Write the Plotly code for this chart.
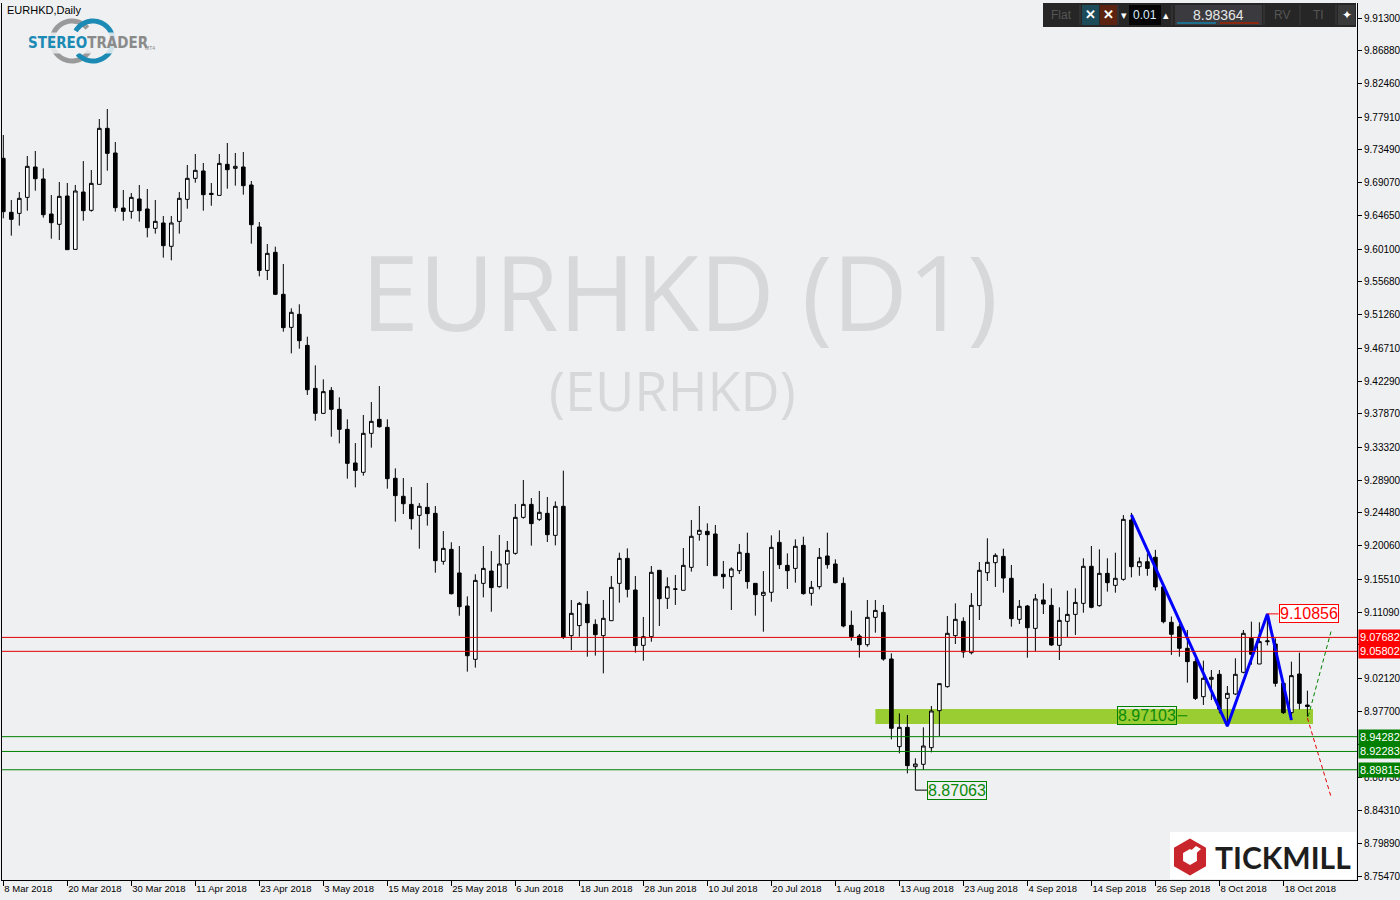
import math
import plotly.graph_objects as go

# ---------------- data (EURHKD daily) ----------------
opens = [9.7236, 9.6507, 9.6493, 9.6709, 9.7119, 9.6957, 9.6484, 9.6345, 9.6727, 9.6007,
         9.6781, 9.6534, 9.6885, 9.7641, 9.7308, 9.6565, 9.6520, 9.6687, 9.6552, 9.6291,
         9.6363, 9.6048, 9.6385, 9.6682, 9.6966, 9.7065, 9.6763, 9.6736, 9.7155, 9.7101,
         9.7119, 9.6876, 9.6309, 9.5723, 9.5967, 9.5400, 9.4954, 9.5130, 9.4711, 9.4130,
         9.3793, 9.4103, 9.3847, 9.3577, 9.3123, 9.2997, 9.3523, 9.3712, 9.3604, 9.2916,
         9.2673, 9.2564, 9.2416, 9.2524, 9.2443, 9.1795, 9.1957, 9.1638, 9.1192, 9.0472,
         9.1498, 9.1664, 9.1453, 9.1759, 9.1903, 9.2389, 9.2564, 9.2362, 9.2443, 9.2146,
         9.2538, 9.0792, 9.0927, 9.1215, 9.0944, 9.0792, 9.0994, 9.1498, 9.1835, 9.1408,
         9.0661, 9.0778, 9.1674, 9.1296, 9.1418, 9.1404, 9.1714, 9.2160, 9.2200, 9.2164,
         9.1620, 9.1588, 9.1669, 9.1903, 9.1498, 9.1336, 9.1377, 9.2051, 9.1741, 9.1700,
         9.2011, 9.1363, 9.1453, 9.1867, 9.1759, 9.1498, 9.0931, 9.0787, 9.0670, 9.1039,
         9.1106, 9.0477, 8.9293, 8.9554, 8.9023, 8.9055, 8.9280, 8.9779, 9.0103, 9.0792,
         9.0985, 9.0562, 9.1197, 9.1642, 9.1777, 9.1862, 9.1566, 9.1012, 9.1192, 9.0890,
         9.1273, 9.1201, 9.0661, 9.0985, 9.1079, 9.1228, 9.1728, 9.1197, 9.1633, 9.1471,
         9.1552, 9.2353, 9.1723, 9.1790, 9.1850, 9.1450, 9.0972, 9.0913, 9.0621, 9.0441,
         8.9968, 9.0202, 9.0270, 8.9946, 9.0004, 9.0297, 9.0756, 9.0409, 9.0710, 9.0679,
         9.0148, 8.9752, 9.0274, 8.9855]
highs = [9.7551, 9.6673, 9.6781, 9.7267, 9.7335, 9.7101, 9.6741, 9.6916, 9.6903, 9.6876,
         9.7199, 9.7078, 9.7767, 9.7902, 9.7456, 9.6808, 9.6768, 9.6876, 9.6822, 9.6673,
         9.6457, 9.6457, 9.6781, 9.7146, 9.7294, 9.7173, 9.6903, 9.7294, 9.7443, 9.7308,
         9.7321, 9.6930, 9.6376, 9.6079, 9.6043, 9.5809, 9.5211, 9.5265, 9.4828, 9.4441,
         9.4252, 9.4148, 9.4009, 9.3712, 9.3392, 9.3771, 9.3946, 9.4162, 9.3712, 9.3050,
         9.2920, 9.2798, 9.2582, 9.2853, 9.2542, 9.2204, 9.2052, 9.2002, 9.1322, 9.1620,
         9.2002, 9.1934, 9.2151, 9.2070, 9.2569, 9.2893, 9.2650, 9.2745, 9.2664, 9.2605,
         9.3019, 9.1273, 9.1246, 9.1394, 9.1012, 9.1273, 9.1597, 9.1912, 9.1970, 9.1597,
         9.1044, 9.1732, 9.1674, 9.1579, 9.1611, 9.1975, 9.2353, 9.2542, 9.2308, 9.2286,
         9.1800, 9.1714, 9.2029, 9.2182, 9.1498, 9.1664, 9.2146, 9.2214, 9.1903, 9.2092,
         9.2128, 9.1530, 9.1975, 9.2182, 9.1822, 9.1579, 9.1129, 9.0814, 9.1273, 9.1273,
         9.1206, 9.0553, 8.9743, 8.9721, 8.9136, 8.9554, 8.9842, 9.0144, 9.1057, 9.1228,
         9.1039, 9.1367, 9.1786, 9.2106, 9.1903, 9.1966, 9.1746, 9.1273, 9.1206, 9.1354,
         9.1498, 9.1431, 9.1174, 9.1399, 9.1431, 9.1836, 9.2002, 9.1957, 9.1836, 9.1912,
         9.2420, 9.2450, 9.1850, 9.1900, 9.1950, 9.1500, 9.1050, 9.0950, 9.0868, 9.0480,
         9.0454, 9.0328, 9.0328, 9.0112, 9.0486, 9.0868, 9.0981, 9.0972, 9.10856, 9.0756,
         9.0148, 9.0441, 9.0562, 9.0049]
lows = [9.6426, 9.6192, 9.6327, 9.6529, 9.6799, 9.6435, 9.6151, 9.6133, 9.6003, 9.6003,
        9.6394, 9.6516, 9.6885, 9.7069, 9.6516, 9.6394, 9.6421, 9.6381, 9.6169, 9.6219,
        9.5895, 9.5859, 9.6219, 9.6556, 9.6907, 9.6529, 9.6596, 9.6736, 9.6826, 9.6867,
        9.6745, 9.6084, 9.5643, 9.5593, 9.5390, 9.4895, 9.4603, 9.4666, 9.4041, 9.3694,
        9.3784, 9.3478, 9.3388, 9.2911, 9.2794, 9.2952, 9.3330, 9.3600, 9.2776, 9.2331,
        9.2434, 9.2223, 9.1966, 9.2277, 9.1642, 9.1750, 9.1349, 9.1061, 9.0306, 9.0360,
        9.1309, 9.1115, 9.1440, 9.1426, 9.1885, 9.2371, 9.2007, 9.2340, 9.2056, 9.2011,
        9.0746, 9.0598, 9.0778, 9.0508, 9.0522, 9.0283, 9.0994, 9.1237, 9.1309, 9.0562,
        9.0454, 9.0710, 9.0922, 9.1152, 9.1206, 9.1404, 9.1656, 9.2074, 9.1732, 9.1601,
        9.1426, 9.1138, 9.1624, 9.1426, 9.1062, 9.0845, 9.1250, 9.1692, 9.1422, 9.1507,
        9.1345, 9.1197, 9.1417, 9.1696, 9.1498, 9.0904, 9.0724, 9.0495, 9.0643, 9.0832,
        9.0454, 8.9392, 8.9203, 8.8933, 8.87063, 8.8978, 8.9217, 8.9437, 9.0090, 9.0679,
        9.0494, 9.0539, 9.1003, 9.1530, 9.1449, 9.1372, 9.0913, 9.0949, 9.0494, 9.0584,
        9.1084, 9.0652, 9.0463, 9.0774, 9.0801, 9.1102, 9.1161, 9.1183, 9.1386, 9.1372,
        9.1534, 9.1579, 9.1600, 9.1600, 9.1400, 9.0958, 9.0531, 9.0508, 9.0157, 8.9923,
        8.9856, 8.9923, 8.9743, 8.9563, 8.9990, 9.0283, 9.0400, 9.0409, 9.0660, 9.0103,
        8.9734, 8.9650, 8.9797, 8.9698]
closes = [9.6516, 9.6412, 9.6696, 9.7128, 9.6961, 9.6475, 9.6367, 9.6723, 9.6003, 9.6795,
          9.6529, 9.6898, 9.7641, 9.7303, 9.6570, 9.6520, 9.6709, 9.6529, 9.6300, 9.6385,
          9.6057, 9.6363, 9.6696, 9.6966, 9.7074, 9.6745, 9.6749, 9.7168, 9.7083, 9.7128,
          9.6867, 9.6340, 9.5723, 9.5953, 9.5400, 9.4950, 9.5157, 9.4774, 9.4112, 9.3793,
          9.4086, 9.3847, 9.3577, 9.3118, 9.3023, 9.3523, 9.3685, 9.3613, 9.2911, 9.2682,
          9.2573, 9.2371, 9.2538, 9.2439, 9.1804, 9.1970, 9.1358, 9.1183, 9.0521, 9.1538,
          9.1700, 9.1440, 9.1759, 9.1943, 9.2389, 9.2564, 9.2304, 9.2457, 9.2155, 9.2538,
          9.0769, 9.1093, 9.1228, 9.0967, 9.0805, 9.1026, 9.1444, 9.1835, 9.1417, 9.0657,
          9.0778, 9.1647, 9.1291, 9.1453, 9.1422, 9.1741, 9.2133, 9.2214, 9.2155, 9.1601,
          9.1588, 9.1692, 9.1917, 9.1521, 9.1345, 9.1377, 9.1984, 9.1750, 9.1669, 9.1998,
          9.1359, 9.1444, 9.1849, 9.1750, 9.1507, 9.0922, 9.0778, 9.0670, 9.1039, 9.1133,
          9.0476, 8.9541, 8.9554, 8.9037, 8.9059, 8.9302, 8.9775, 9.0144, 9.0823, 9.1012,
          9.0571, 9.1201, 9.1674, 9.1782, 9.1876, 9.1570, 9.1021, 9.1188, 9.0899, 9.1287,
          9.1219, 9.0666, 9.0998, 9.1079, 9.1241, 9.1728, 9.1174, 9.1633, 9.1507, 9.1566,
          9.2362, 9.1723, 9.1790, 9.1700, 9.1450, 9.0980, 9.0810, 9.0621, 9.0441, 8.9945,
          9.0216, 9.0229, 8.9801, 9.0013, 9.0270, 9.0823, 9.0540, 9.0711, 9.0720, 9.0148,
          8.9752, 9.0252, 8.9878, 8.98364]
bar_index = list(range(len(opens)))

date_tick_labels = ["8 Mar 2018", "20 Mar 2018", "30 Mar 2018", "11 Apr 2018", "23 Apr 2018",
                    "3 May 2018", "15 May 2018", "25 May 2018", "6 Jun 2018", "18 Jun 2018",
                    "28 Jun 2018", "10 Jul 2018", "20 Jul 2018", "1 Aug 2018", "13 Aug 2018",
                    "23 Aug 2018", "4 Sep 2018", "14 Sep 2018", "26 Sep 2018", "8 Oct 2018",
                    "18 Oct 2018"]
date_tick_bars = [0, 8, 16, 24, 32, 40, 48, 56, 64, 72, 80, 88, 96, 104, 112, 120, 128,
                  136, 144, 152, 160]

price_ticks = [9.91300, 9.86880, 9.82460, 9.77910, 9.73490, 9.69070, 9.64650, 9.60100,
               9.55680, 9.51260, 9.46710, 9.42290, 9.37870, 9.33320, 9.28900, 9.24480,
               9.20060, 9.15510, 9.11090, 9.06670, 9.02120, 8.97700, 8.93280, 8.88730,
               8.84310, 8.79890, 8.75470]

red_levels = [9.07682, 9.05802]
green_levels = [8.94282, 8.92283, 8.89815]
zone_prices = [8.9599, 8.9801]
zone_bars = [109.0, 163.7]
zigzag_bars = [141, 153, 158, 161]
zigzag_prices = [9.2421, 8.9572, 9.10856, 8.9653]
up_path_bars = [163.1, 166.0]
up_path_prices = [8.9700, 9.0867]
down_path_bars = [163.0, 166.0]
down_path_prices = [8.9680, 8.8600]
low_label = 8.87063
zone_label = 8.97103
high_label = 9.10856
last_price = 8.98364

# ---------------- layout geometry (pixels) ----------------
L, R, T, B = 2, 1357, 3, 880
BG = "#eff0f2"


def px(x):
    return (x - L) / (R - L)


def py(y):
    return (B - y) / (B - T)


fig = go.Figure()

fig.add_trace(go.Candlestick(
    x=bar_index, open=opens, high=highs, low=lows, close=closes,
    increasing=dict(line=dict(color="black", width=1), fillcolor="white"),
    decreasing=dict(line=dict(color="black", width=1), fillcolor="black"),
    whiskerwidth=0, hoverinfo="skip", showlegend=False))

fig.add_trace(go.Scatter(x=zigzag_bars, y=zigzag_prices, mode="lines",
                         line=dict(color="#0000ff", width=3), hoverinfo="skip", showlegend=False))
fig.add_trace(go.Scatter(x=up_path_bars, y=up_path_prices, mode="lines",
                         line=dict(color="#008000", width=1, dash="4px,3px"),
                         hoverinfo="skip", showlegend=False))
fig.add_trace(go.Scatter(x=down_path_bars, y=down_path_prices, mode="lines",
                         line=dict(color="#e00000", width=1, dash="4px,3px"),
                         hoverinfo="skip", showlegend=False))

shapes = []
annotations = []

# support zone
shapes.append(dict(type="rect", xref="x", yref="y", x0=zone_bars[0], x1=zone_bars[1],
                   y0=zone_prices[0], y1=zone_prices[1], fillcolor="#9acd32",
                   line=dict(width=0), layer="below"))
# horizontal levels
for lv in red_levels:
    shapes.append(dict(type="line", xref="paper", yref="y", x0=0, x1=1, y0=lv, y1=lv,
                       line=dict(color="#e00000", width=1)))
    annotations.append(dict(xref="paper", yref="y", x=1, y=lv, xanchor="left", yanchor="middle",
                            xshift=1, text=f"{lv:.5f}", showarrow=False, bgcolor="#ff0000",
                            font=dict(family="Liberation Sans", size=11, color="white"),
                            borderpad=1))
for lv in green_levels:
    shapes.append(dict(type="line", xref="paper", yref="y", x0=0, x1=1, y0=lv, y1=lv,
                       line=dict(color="#008000", width=1)))
    annotations.append(dict(xref="paper", yref="y", x=1, y=lv, xanchor="left", yanchor="middle",
                            xshift=1, text=f"{lv:.5f}", showarrow=False, bgcolor="#008000",
                            font=dict(family="Liberation Sans", size=11, color="white"),
                            borderpad=1))

# level labels on chart
annotations.append(dict(xref="x", yref="y", x=115.5, y=low_label, xanchor="left",
                        yanchor="middle", text=f"{low_label:.5f}", showarrow=False,
                        bordercolor="#008000", borderwidth=1, borderpad=0,
                        font=dict(family="Liberation Sans", size=16, color="#0a8a0a")))
shapes.append(dict(type="line", xref="x", yref="y", x0=114, x1=115.5, y0=low_label,
                   y1=low_label, line=dict(color="black", width=1)))
annotations.append(dict(xref="x", yref="y", x=139.2, y=zone_label, xanchor="left",
                        yanchor="middle", text=f"{zone_label:.5f}", showarrow=False,
                        bordercolor="#008000", borderwidth=1, borderpad=0,
                        font=dict(family="Liberation Sans", size=16, color="#0a8a0a")))
shapes.append(dict(type="line", xref="x", yref="y", x0=146.8, x1=148.0, y0=zone_label,
                   y1=zone_label, line=dict(color="#008000", width=1)))
annotations.append(dict(xref="x", yref="y", x=159.4, y=high_label, xanchor="left",
                        yanchor="middle", text=f"{high_label:.5f}", showarrow=False,
                        bordercolor="#ff0000", borderwidth=1, borderpad=0, bgcolor="white",
                        font=dict(family="Liberation Sans", size=16, color="#ff0000")))
shapes.append(dict(type="line", xref="x", yref="y", x0=158, x1=159.4, y0=high_label,
                   y1=high_label, line=dict(color="#ff0000", width=1)))

# watermark
annotations.append(dict(xref="paper", yref="paper", x=px(679), y=py(290), xanchor="center",
                        yanchor="middle", text="EURHKD (D1)", showarrow=False,
                        font=dict(family="Open Sans", size=104, color="#d6d8da")))
annotations.append(dict(xref="paper", yref="paper", x=px(672), y=py(390), xanchor="center",
                        yanchor="middle", text="(EURHKD)", showarrow=False,
                        font=dict(family="Open Sans", size=54, color="#d6d8da")))

# title
annotations.append(dict(xref="paper", yref="paper", x=px(5), y=py(10), xanchor="left",
                        yanchor="middle", text="EURHKD,Daily", showarrow=False,
                        font=dict(family="Liberation Sans", size=11, color="black")))


# StereoTrader logo (decoration)
def arc(cx, cy, r, a0, a1, n=48):
    pts = []
    for k in range(n + 1):
        a = math.radians(a0 + (a1 - a0) * k / n)
        pts.append((px(cx + r * math.cos(a)), py(cy - r * math.sin(a))))
    return "M " + " L ".join(f"{x:.5f},{y:.5f}" for x, y in pts)


shapes.append(dict(type="path", xref="paper", yref="paper", path=arc(72, 41, 20, 40, 330),
                   line=dict(color="#9a9a9a", width=5)))
shapes.append(dict(type="path", xref="paper", yref="paper", path=arc(93, 41, 20, -140, 150),
                   line=dict(color="#1b8ab5", width=5)))
annotations.append(dict(xref="paper", yref="paper", x=px(26), y=py(43), xanchor="left",
                        yanchor="middle", showarrow=False,
                        text="<b><span style='color:#1b8ab5'>STEREO</span>"
                             "<span style='color:#8a8a8a'>TRADER</span></b>",
                        bgcolor="rgba(239,240,242,0.85)",
                        font=dict(family="DejaVu Sans Condensed", size=15)))
annotations.append(dict(xref="paper", yref="paper", x=px(143), y=py(48), xanchor="left",
                        yanchor="middle", showarrow=False, text="MT4",
                        font=dict(family="Liberation Sans", size=5, color="#8a8a8a")))

# Tickmill logo (decoration)
shapes.append(dict(type="rect", xref="paper", yref="paper", x0=px(1170), x1=px(1356),
                   y0=py(879), y1=py(832), fillcolor="white", line=dict(width=0)))


def hexagon(cx, cy, r):
    pts = []
    for k in range(6):
        a = math.radians(90 + 60 * k)
        pts.append((px(cx + r * math.cos(a)), py(cy - r * math.sin(a))))
    return "M " + " L ".join(f"{x:.5f},{y:.5f}" for x, y in pts) + " Z"


shapes.append(dict(type="path", xref="paper", yref="paper", path=hexagon(1190, 857, 18.5),
                   fillcolor="#c9252c", line=dict(width=0)))
shapes.append(dict(type="path", xref="paper", yref="paper", path=hexagon(1190, 857, 8),
                   fillcolor="white", line=dict(width=0)))
shapes.append(dict(type="path", xref="paper", yref="paper",
                   path=f"M {px(1196):.5f},{py(846):.5f} L {px(1201):.5f},{py(849):.5f} "
                        f"L {px(1191):.5f},{py(858):.5f} L {px(1186):.5f},{py(855):.5f} Z",
                   fillcolor="white", line=dict(width=0)))
annotations.append(dict(xref="paper", yref="paper", x=px(1213), y=py(857), xanchor="left",
                        yanchor="middle", showarrow=False, text="<b>TICKMILL</b>",
                        font=dict(family="Lato", size=30, color="#1e1e1e")))

# trading toolbar (decoration)
shapes.append(dict(type="rect", xref="paper", yref="paper", x0=px(1043), x1=px(1356),
                   y0=py(27), y1=py(3), fillcolor="#262626", line=dict(width=0)))
for x0, x1, col in [(1082, 1099, "#1c4b5a"), (1100, 1117, "#5c2410"), (1129, 1161, "#050505"),
                    (1175, 1262, "#3b3b3f"), (1338, 1355, "#3a3a3a")]:
    shapes.append(dict(type="rect", xref="paper", yref="paper", x0=px(x0), x1=px(x1),
                       y0=py(25), y1=py(5), fillcolor=col, line=dict(width=0)))
for xs in [1080, 1118, 1172, 1264, 1300, 1336]:
    shapes.append(dict(type="line", xref="paper", yref="paper", x0=px(xs), x1=px(xs),
                       y0=py(25), y1=py(5), line=dict(color="#3c3c3c", width=1)))
shapes.append(dict(type="line", xref="paper", yref="paper", x0=px(1177), x1=px(1216),
                   y0=py(23), y1=py(23), line=dict(color="#1f6f8f", width=2)))
shapes.append(dict(type="line", xref="paper", yref="paper", x0=px(1220), x1=px(1259),
                   y0=py(23), y1=py(23), line=dict(color="#8b2a10", width=2)))
for tx, txt, col, sz in [(1061, "Flat", "#555555", 12), (1090.5, "<b>✕</b>", "white", 13),
                         (1108.5, "<b>✕</b>", "white", 13), (1124, "▾", "white", 11),
                         (1145, "0.01", "#d8ecff", 12), (1166, "▴", "white", 11),
                         (1218, "8.98364", "#e6e6e6", 14), (1282, "RV", "#555555", 12),
                         (1318, "TI", "#555555", 12), (1346.5, "✦", "white", 12)]:
    annotations.append(dict(xref="paper", yref="paper", x=px(tx), y=py(14.5), xanchor="center",
                            yanchor="middle", showarrow=False, text=txt,
                            font=dict(family="Liberation Sans", size=sz, color=col)))

fig.update_layout(
    width=1400, height=900,
    margin=dict(l=L, r=1400 - R, t=T, b=900 - B, pad=0, autoexpand=False),
    paper_bgcolor=BG, plot_bgcolor=BG,
    showlegend=False, boxgap=0.35,
    shapes=shapes, annotations=annotations,
    font=dict(family="Liberation Sans", size=10, color="black"),
    xaxis=dict(range=[-0.1625, 169.2], rangeslider=dict(visible=False), showgrid=False,
               zeroline=False, tickmode="array", tickvals=date_tick_bars,
               ticktext=date_tick_labels, ticks="outside", ticklen=5, tickcolor="black",
               showline=True, linecolor="black", linewidth=1, mirror=False,
               ticklabelposition="outside right", tickangle=0, automargin=False,
               tickfont=dict(family="Liberation Sans", size=9.5, color="black")),
    yaxis=dict(range=[8.7493, 9.9333], side="right", showgrid=False, zeroline=False,
               tickmode="array", tickvals=price_ticks, tickformat=".5f", ticks="outside",
               ticklen=4, tickcolor="black", showline=True, linecolor="black", linewidth=1,
               mirror=True, automargin=False,
               tickfont=dict(family="Liberation Sans", size=10, color="black")),
)

fig.write_html("out.html",
               config={"displayModeBar": False},
               post_script="document.body.style.margin='0';"
                           "document.body.style.overflow='hidden';"
                           "document.body.style.background='#eff0f2';")
